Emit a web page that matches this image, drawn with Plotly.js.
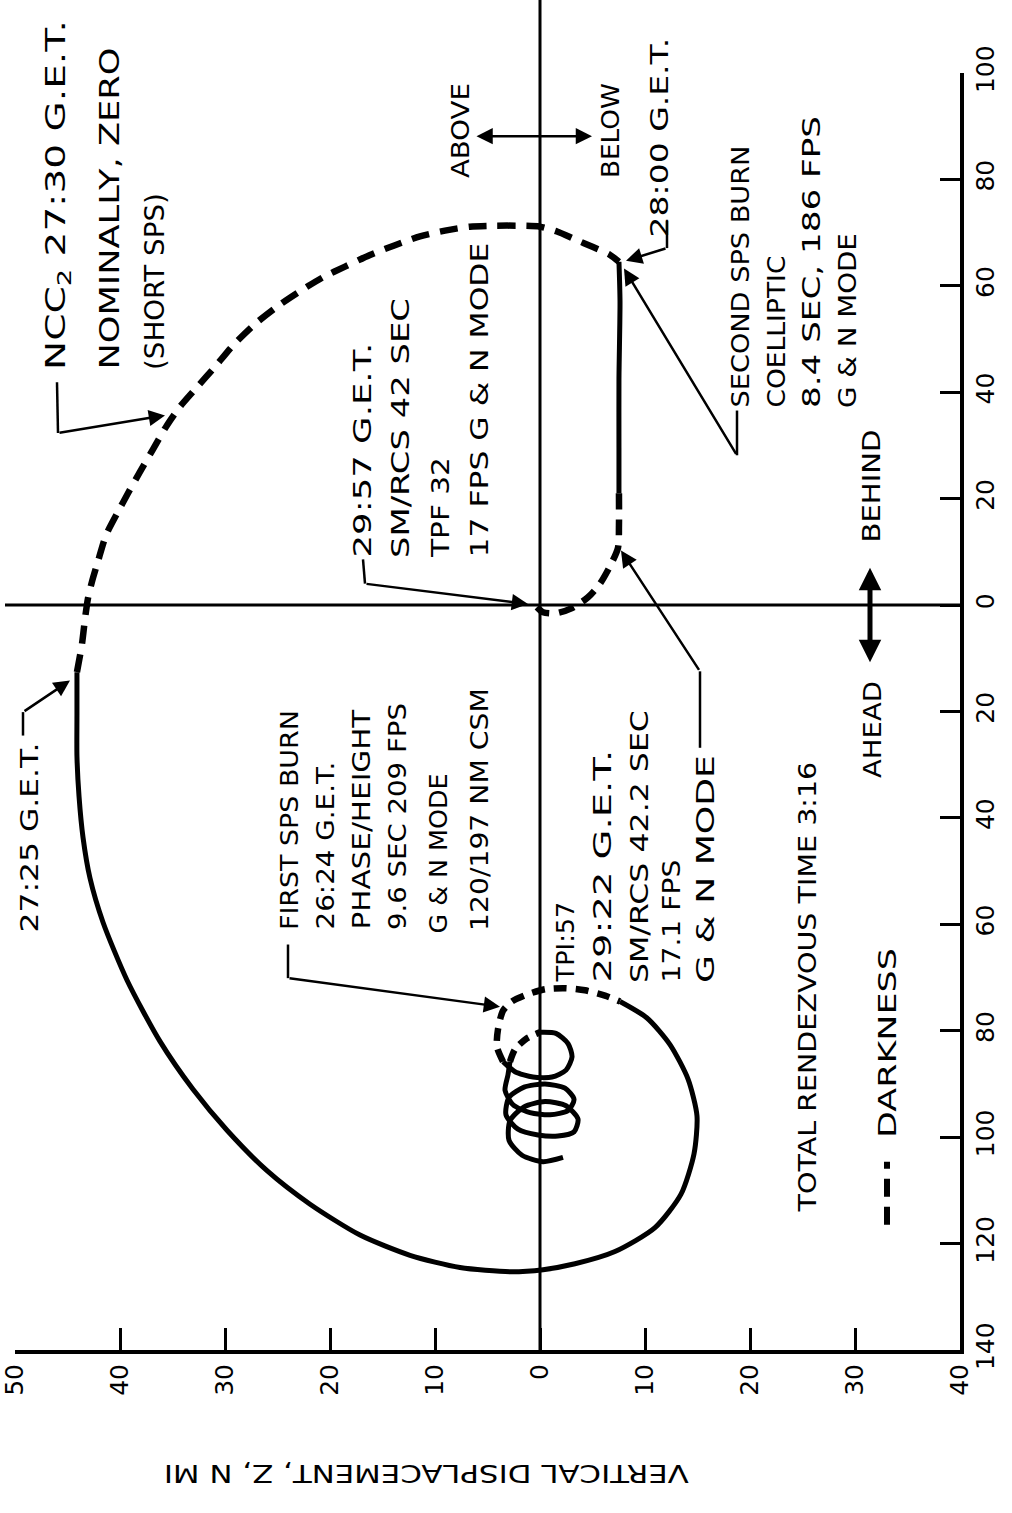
<!DOCTYPE html>
<html><head><meta charset="utf-8">
<script src="https://cdn.plot.ly/plotly-3.0.1.min.js"></script>
<style>
html,body{margin:0;padding:0;background:#fff;}
#chart{width:1012px;height:1513px;}
</style>
</head><body><div id="chart"></div>
<script>
// ---- axis ticks (Z: + = above, X: + = behind) ----
const zTicks = [50,40,30,20,10,0,-10,-20,-30,-40];
const zTickText = ['50','40','30','20','10','0','10','20','30','40'];
const xTicks = [100,80,60,40,20,0,-20,-40,-60,-80,-100,-120,-140];
const xTickText = ['100','80','60','40','20','0','20','40','60','80','100','120','140'];

// ---- trajectory segments (Z vertical displacement, X horizontal displacement, n mi) ----
const loopZ = [-2.19,-0.29,1.71,2.95,2.86,1.52,-0.48,-2.48,-3.62,-3.24,-1.71,0.19,2.10,3.24,2.95,1.52,-0.48,-2.38,-3.24,-2.67,-0.95,0.95,2.57,3.33,3.05,2.86];
const loopX = [-103.8,-104.6,-103.4,-100.6,-96.9,-94.3,-93.3,-94.1,-96.6,-99.0,-99.8,-99.6,-98.5,-95.8,-92.5,-90.6,-90.0,-90.8,-92.9,-95.0,-95.8,-95.4,-93.9,-91.2,-88.3,-85.8];
const dark1Z = [2.86,2.38,1.24,0];
const dark1X = [-85.8,-83.5,-81.4,-80.3];
const topLoopZ = [0,-1.52,-2.67,-3.05,-2.48,-1.14,0.67,2.38,3.52];
const topLoopX = [-80.3,-80.5,-82.4,-84.9,-87.4,-88.7,-88.7,-87.7,-85.8];
const dark2Z = [3.52,4.10,4.00,3.52,2.67,1.24,-0.48,-2.38,-4.29,-6.19,-7.62];
const dark2X = [-85.8,-83.0,-79.7,-76.2,-74.5,-73.2,-72.2,-72.0,-72.4,-73.4,-74.5];
const phaseZ = [-7.62,-10.19,-12.38,-14.10,-14.95,-14.67,-13.43,-10.95,-7.14,-3.33,-0.29,2.86,7.62,12.38,17.14,21.90,26.0,29.81,33.05,36.19,39.33,41.62,42.86,43.52,43.90,44.10,44.10,44.10];
const phaseX = [-74.5,-77.6,-82.6,-89.1,-96.0,-103.1,-110.7,-117.0,-121.5,-123.8,-124.9,-125.3,-124.5,-122.2,-118.4,-112.6,-106.3,-98.7,-91.0,-82.0,-70.5,-59.6,-51.3,-43.7,-36.0,-28.4,-20.7,-12.6];
const dark3Z = [44.10,43.62,43.33,43.05,42.67,42.10,41.33,40.29,39.24,38.10,36.86,35.52,34.29,32.67,30.95,29.24,27.14,24.76,22.67,20.67,18.57,16.19,13.81,11.43,9.05,6.67,4.29,1.90,0,-1.62,-3.33,-5.05,-6.67,-7.52];
const dark3X = [-12.6,-7.3,-2.5,1.28,4.39,8.23,13.16,17.18,21.02,25.05,29.25,33.82,37.29,40.95,44.79,48.81,52.83,56.49,59.23,61.61,63.62,65.81,67.64,69.29,70.38,71.12,71.30,71.30,71.12,70.20,68.74,67.28,65.81,64.53];
const coellZ = [-7.52,-7.62,-7.52,-7.52,-7.52];
const coellX = [64.53,57.04,42.41,29.62,21.02];
const dark4Z = [-7.52,-7.52,-7.43,-6.67,-5.71,-4.57,-3.05,-1.52,-0.29,0.29];
const dark4X = [21.02,14.99,10.79,7.31,4.02,1.46,-0.57,-1.53,-1.34,-0.38];

// ---- pixel helpers for layout placement ----
function zOf(px){ return (540 - px)/10.5; }
function xOf(py){ return py < 612 ? (612 - py)/5.47 : (612 - py)/5.22; }
function pX(px){ return (px - 15)/945; }
function pY(py){ return (1350 - py)/1277; }

const FONT = 'DejaVu Sans';
const solid = {color:'#000', width:5, shape:'spline', smoothing:0.7};
const dashed = {color:'#000', width:6.5, dash:'18px,11px', shape:'spline', smoothing:0.7};
function seg(z, x, line){ return {type:'scatter', mode:'lines', x:z, y:x, line:line, hoverinfo:'skip', showlegend:false}; }

const traces = [
  seg(loopZ, loopX, solid),
  seg(dark1Z, dark1X, Object.assign({}, dashed, {dash:'12px,8px'})),
  seg(topLoopZ, topLoopX, solid),
  seg(dark2Z, dark2X, Object.assign({}, dashed, {dash:'13px,9px'})),
  seg(phaseZ, phaseX, solid),
  seg(dark3Z, dark3X, dashed),
  seg(coellZ, coellX, solid),
  seg(dark4Z, dark4X, Object.assign({}, dashed, {dash:'16px,10px'}))
];

// ---- text labels: [text, column centre px, bottom px, drawn length px, font size] ----
const labels = [
  ['NCC<sub>2</sub> 27:30 G.E.T.', 58, 372, 350, 27],
  ['NOMINALLY, ZERO', 110, 372, 322, 27],
  ['(SHORT SPS)', 155, 372, 177, 27],
  ['27:25 G.E.T.', 30, 935, 190, 25],
  ['FIRST SPS BURN', 290, 932, 220, 24],
  ['26:24 G.E.T.', 327, 932, 168, 24],
  ['PHASE/HEIGHT', 363, 932, 220, 24],
  ['9.6 SEC 209 FPS', 398, 932, 227, 24],
  ['G &amp; N MODE', 440, 936, 160, 24],
  ['120/197 NM CSM', 480, 933, 243, 24],
  ['TPI:57', 566, 985, 80, 25],
  ['29:22 G.E.T.', 603, 985, 233, 25],
  ['SM/RCS 42.2 SEC', 639, 985, 273, 25],
  ['17.1 FPS', 672, 985, 123, 25],
  ['G &amp; N MODE', 705, 985, 228, 25],
  ['29:57 G.E.T.', 363, 560, 215, 25],
  ['SM/RCS 42 SEC', 400, 560, 260, 25],
  ['TPF 32', 440, 560, 100, 25],
  ['17 FPS G &amp; N MODE', 480, 560, 315, 25],
  ['ABOVE', 460, 180, 95, 25],
  ['BELOW', 610, 180, 95, 25],
  ['28:00 G.E.T.', 660, 240, 200, 25],
  ['SECOND SPS BURN', 741, 410, 262, 25],
  ['COELLIPTIC', 777, 410, 152, 25],
  ['8.4 SEC, 186 FPS', 812, 410, 292, 25],
  ['G &amp; N MODE', 848, 410, 175, 25],
  ['AHEAD', 872, 780, 97, 25],
  ['BEHIND', 872, 545, 113, 25],
  ['TOTAL RENDEZVOUS TIME 3:16', 808, 1215, 450, 25],
  ['DARKNESS', 887, 1140, 190, 25]
];

const annotations = labels.map(l => ({
  text:l[0], xref:'paper', yref:'paper', x:pX(l[1]), y:pY(l[2]),
  xanchor:'center', yanchor:'bottom', align:'left', textangle:-90, showarrow:false,
  font:{family:FONT, size:l[4], color:'#000'}
}));
const lengths = labels.map(l => l[3]);

annotations.push({
  text:'VERTICAL DISPLACEMENT, Z, N MI', xref:'paper', yref:'paper',
  x:pX(427), y:pY(1474), xanchor:'center', yanchor:'middle', textangle:180, showarrow:false,
  font:{family:FONT, size:25, color:'#000'}
});
lengths.push(525);

const leaders = [
  [165,417, 58,435],
  [70,686, 23,717],
  [500,1006, 288,978],
  [528,611, 365,590],
  [621,556, 700,677],
  [626,258, 667,245],
  [624,266, 737,458]
];
leaders.forEach(a => annotations.push({
  text:'', xref:'x', yref:'y', axref:'x', ayref:'y',
  x:zOf(a[0]), y:xOf(a[1]), ax:zOf(a[2]), ay:xOf(a[3]),
  showarrow:true, arrowhead:2, arrowsize:1.3, arrowwidth:2.5, arrowcolor:'#000', standoff:0
}));
annotations.push({text:'', xref:'x', yref:'y', axref:'x', ayref:'y',
  x:zOf(592), y:xOf(130), ax:zOf(475), ay:xOf(130), showarrow:true, arrowside:'end+start',
  arrowhead:2, startarrowhead:2, arrowsize:1.3, startarrowsize:1.3, arrowwidth:2.5, arrowcolor:'#000', standoff:0, startstandoff:0});
annotations.push({text:'', xref:'x', yref:'y', axref:'x', ayref:'y',
  x:zOf(870), y:xOf(668), ax:zOf(870), ay:xOf(572), showarrow:true, arrowside:'end+start',
  arrowhead:2, startarrowhead:2, arrowsize:0.9, startarrowsize:0.9, arrowwidth:5, arrowcolor:'#000', standoff:0, startstandoff:0});

const stubs = [
  [57,383, 58,435],
  [23,740, 23,717],
  [288,945, 288,978],
  [363,565, 365,590],
  [700,752, 700,677],
  [667,217, 667,245],
  [737,412, 737,458]
];
const shapes = stubs.map(s => ({type:'line', xref:'x', yref:'y',
  x0:zOf(s[0]), y0:xOf(s[1]), x1:zOf(s[2]), y1:xOf(s[3]), line:{color:'#000', width:2.5}}));
shapes.push({type:'line', xref:'paper', yref:'y', x0:pX(5), x1:1, y0:0, y1:0, line:{color:'#000', width:3}});
shapes.push({type:'line', xref:'x', yref:'paper', x0:0, x1:0, y0:0, y1:1.06, line:{color:'#000', width:3}});
shapes.push({type:'line', xref:'x', yref:'y', x0:zOf(887), x1:zOf(887), y0:xOf(1220), y1:xOf(1158),
  line:{color:'#000', width:6, dash:'18px,10px'}});

const axBase = {showgrid:false, zeroline:false, showline:true, linewidth:4, linecolor:'#000',
  ticks:'inside', tickwidth:3, tickcolor:'#000', tickangle:-90,
  tickfont:{family:FONT, size:25, color:'#000'}, fixedrange:true};

const layout = {
  width:1012, height:1513, margin:{l:15, r:52, t:73, b:163, pad:0},
  paper_bgcolor:'#fff', plot_bgcolor:'#fff', showlegend:false,
  xaxis:Object.assign({}, axBase, {range:[50,-40], tickvals:zTicks, ticktext:zTickText, ticklen:22}),
  yaxis:Object.assign({}, axBase, {range:[-140,100], side:'right', tickvals:xTicks, ticktext:xTickText, ticklen:20}),
  annotations:annotations, shapes:shapes
};

// stretch each label along its reading direction so its drawn length matches the original lettering
Plotly.newPlot('chart', traces, layout, {staticPlot:true}).then(gd => {
  lengths.forEach((len, i) => {
    const t = gd.querySelector('g.annotation[data-index="' + i + '"] text.annotation-text');
    if(!t || !len) return;
    const L0 = t.getComputedTextLength();
    if(!L0) return;
    const s = len / L0;
    const x0 = parseFloat(t.getAttribute('x')) || 0;
    const prev = t.getAttribute('transform') || '';
    t.setAttribute('transform', (prev + ' translate(' + (x0 * (1 - s)).toFixed(2) + ',0) scale(' + s.toFixed(4) + ',1)').trim());
  });
});
</script>
</body></html>
